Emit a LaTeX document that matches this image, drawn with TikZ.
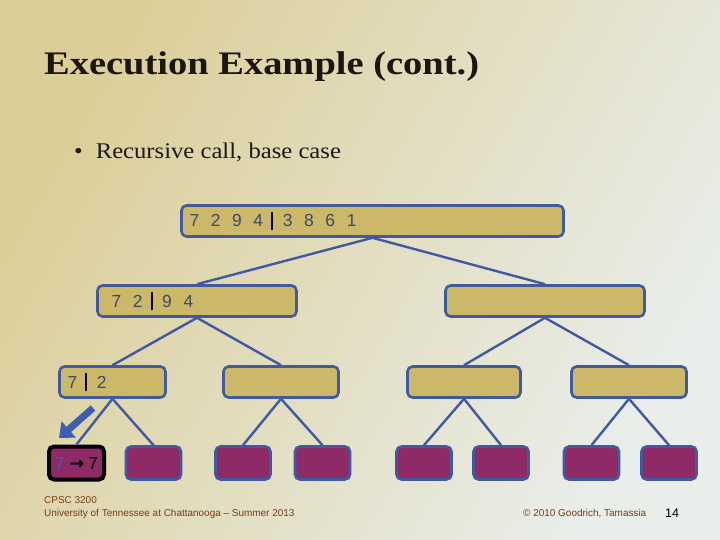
\documentclass[tikz,border=0pt]{standalone}
\usepackage{fontspec}
\setmainfont{Liberation Serif}
\newfontfamily\titlefont[FakeStretch=1.17]{Liberation Serif}
\newfontfamily\bodyfont[FakeStretch=1.1]{Liberation Serif}
\newfontfamily\digitfont{Liberation Sans}
\newfontfamily\footfont{Liberation Sans}
\newfontfamily\arrowfont{DejaVu Sans}
\usetikzlibrary{arrows.meta,positioning}
\definecolor{BgTan}{RGB}{220,206,152}
\definecolor{BgPale}{RGB}{233,238,235}
\definecolor{BoxTan}{RGB}{203,184,104}
\definecolor{EdgeBlue}{RGB}{63,90,160}
\definecolor{DigitGray}{RGB}{61,74,106}
\definecolor{LeafPurple}{RGB}{142,42,102}
\definecolor{CallBlue}{RGB}{60,95,180}
\definecolor{FootBrown}{RGB}{122,58,20}
\definecolor{TitleInk}{RGB}{28,22,16}
\newcommand{\splitbar}{\hspace{8bp}{\color{black}\rule[-3bp]{2.2bp}{18bp}}\hspace{9.5bp}}
\tikzset{
  seq/.style={draw=EdgeBlue,fill=BoxTan,line width=2.6bp,rounded corners=5bp,
    minimum height=31bp,inner xsep=8bp,inner ysep=0pt,text width=#1,align=left,
    text=DigitGray,font=\digitfont\fontsize{17.5}{18}\selectfont},
  leaf/.style={draw=EdgeBlue,fill=LeafPurple,line width=2.6bp,rounded corners=5bp,
    minimum width=55bp,minimum height=33bp,inner sep=0pt,
    font=\digitfont\fontsize{17.5}{18}\selectfont},
  current/.style={leaf,draw=black,line width=4bp},
  link/.style={EdgeBlue,line width=2.4bp},
  call/.style={-{Triangle[length=13bp,width=21bp]},CallBlue,line width=7bp},
  foot/.style={anchor=base west,inner sep=0pt,text=FootBrown,
    font=\footfont\fontsize{10}{12}\selectfont}
}

\begin{document}
\begin{tikzpicture}[x=1bp,y=-1bp]
  \useasboundingbox (0,0) rectangle (720,540);
  \shade[left color=BgTan,right color=BgPale,shading angle=60] (0,0) rectangle (720,540);

  \node[anchor=base west,inner sep=0pt,text=TitleInk,
    font=\titlefont\bfseries\fontsize{33}{36}\selectfont] (title) at (44,75)
    {Execution Example (cont.)};
  \node[anchor=base west,inner sep=0pt,text=black!90,
    font=\bodyfont\fontsize{22.5}{26}\selectfont] (point) at (74,159)
    {\textbullet\hspace{13bp}Recursive call, base case};

  % merge-sort tree
  \node[seq=366bp] (n0) at (372.5,221) {7~~2~~9~~4\splitbar 3~~8~~6~~1};
  \node[seq=183bp] (n1) at (197,301) {\hspace*{6bp}7~~2\splitbar 9~~4};
  \node[seq=183bp] (n2) at (545,301) {};
  \node[seq=90bp] (n11) at (112.5,382) {7\splitbar 2};
  \node[seq=99bp] (n12) at (281,382) {};
  \node[seq=97bp] (n21) at (464,382) {};
  \node[seq=99bp] (n22) at (629,382) {};
  \node[current] (m1) at (76.5,463)
    {{\color{CallBlue}7}\hspace{5bp}{\arrowfont\bfseries →}\hspace{4bp}{\color{black}7}};
  \node[leaf] (m2) at (153.5,463) {};
  \node[leaf] (m3) at (243,463) {};
  \node[leaf] (m4) at (322.5,463) {};
  \node[leaf] (m5) at (424,463) {};
  \node[leaf] (m6) at (501,463) {};
  \node[leaf] (m7) at (591.5,463) {};
  \node[leaf] (m8) at (669,463) {};

  \draw[link] (n0.south) -- (n1.north);
  \draw[link] (n0.south) -- (n2.north);
  \draw[link] (n1.south) -- (n11.north);
  \draw[link] (n1.south) -- (n12.north);
  \draw[link] (n2.south) -- (n21.north);
  \draw[link] (n2.south) -- (n22.north);
  \draw[link] (n11.south) -- (m1.north);
  \draw[link] (n11.south) -- (m2.north);
  \draw[link] (n12.south) -- (m3.north);
  \draw[link] (n12.south) -- (m4.north);
  \draw[link] (n21.south) -- (m5.north);
  \draw[link] (n21.south) -- (m6.north);
  \draw[link] (n22.south) -- (m7.north);
  \draw[link] (n22.south) -- (m8.north);

  % recursive call marker
  \coordinate (callfrom) at (93,408);
  \coordinate (callto) at (59,438);
  \draw[call] (callfrom) -- (callto);

  % footer
  \node[foot] (course) at (44,503.5) {CPSC 3200};
  \node[foot] (campus) at (44,516) {University of Tennessee at Chattanooga – Summer 2013};
  \node[foot] (credit) at (523,516) {© 2010 Goodrich, Tamassia};
  \node[anchor=base west,inner sep=0pt,font=\footfont\fontsize{12.5}{14}\selectfont]
    (page) at (665,517) {14};
\end{tikzpicture}
\end{document}
